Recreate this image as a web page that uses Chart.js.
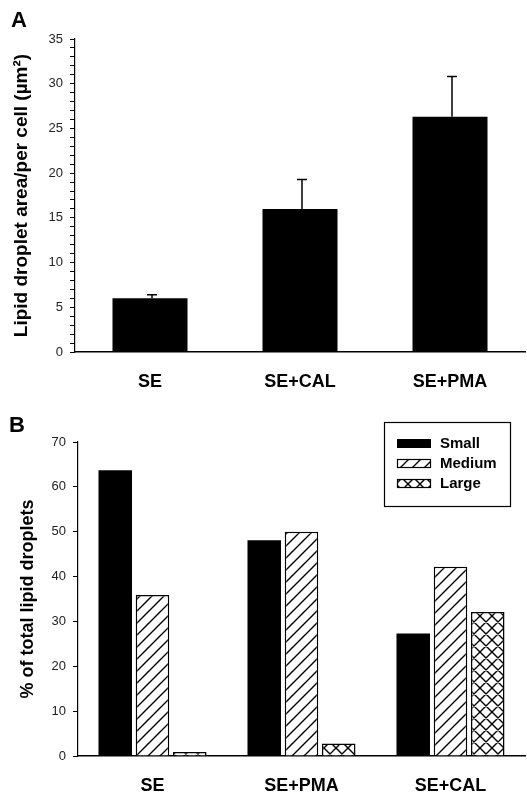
<!DOCTYPE html>
<html>
<head>
<meta charset="utf-8">
<script src="https://cdn.jsdelivr.net/npm/chart.js@4.4.0/dist/chart.umd.min.js"></script>
<style>
  html, body { margin: 0; padding: 0; background: #fff; }
  #wrap { position: relative; width: 527px; height: 793px; }
  .panel { position: absolute; left: 0; width: 527px; }
  #boxA { top: 0; height: 400px; }
  #boxB { top: 400px; height: 393px; }
  .letter { position: absolute; font: bold 22px "Liberation Sans", Arial, sans-serif; line-height: 1; color: #000; }
</style>
</head>
<body>
<div id="wrap">
  <div class="panel" id="boxA"><canvas id="chartA"></canvas></div>
  <div class="panel" id="boxB"><canvas id="chartB"></canvas></div>
  <div class="letter" style="left:11px; top:9px;">A</div>
  <div class="letter" style="left:9px; top:414px;">B</div>
</div>
<script>
// panel A - lipid droplet area per cell
const catsA = ['SE', 'SE+CAL', 'SE+PMA'];
const meanA = [6.0, 16.0, 26.3];
const errA = [0.4, 3.3, 4.5];

// panel B - % of droplets by size
const catsB = ['SE', 'SE+PMA', 'SE+CAL'];
const smallB = [63.7, 48.1, 27.3];
const mediumB = [35.9, 50.0, 42.2];
const largeB = [0.9, 2.8, 32.1];

const fam = '"Liberation Sans", Arial, sans-serif';
Chart.defaults.font.family = fam;

// hatch fills
function hatch(cross) {
  let s = 12;
  let c = document.createElement('canvas');
  c.width = s; c.height = s;
  let g = c.getContext('2d');
  g.fillStyle = '#fff';
  g.fillRect(0, 0, s, s);
  g.strokeStyle = '#000';
  g.lineWidth = 1.4;
  g.beginPath();
  g.moveTo(-1, s + 1); g.lineTo(s + 1, -1);
  g.moveTo(-1, 1); g.lineTo(1, -1);
  g.moveTo(s - 1, s + 1); g.lineTo(s + 1, s - 1);
  if (cross) {
    g.moveTo(-1, -1); g.lineTo(s + 1, s + 1);
    g.moveTo(s - 1, -1); g.lineTo(s + 1, 1);
    g.moveTo(-1, s - 1); g.lineTo(1, s + 1);
  }
  g.stroke();
  return g.createPattern(c, 'repeat');
}

const errPlugin = {
  id: 'errBars',
  afterDatasetsDraw(chart) {
    let meta = chart.getDatasetMeta(0);
    let y = chart.scales.y;
    let ctx = chart.ctx;
    ctx.save();
    ctx.strokeStyle = '#000';
    ctx.lineWidth = 1.5;
    meta.data.forEach((bar, i) => {
      let top = y.getPixelForValue(meanA[i] + errA[i]);
      let x = bar.x + 2;
      ctx.beginPath();
      ctx.moveTo(x, bar.y);
      ctx.lineTo(x, top);
      ctx.moveTo(x - 5, top);
      ctx.lineTo(x + 5, top);
      ctx.stroke();
    });
    ctx.restore();
  }
};

const boxLegend = {
  id: 'boxLegend',
  afterDraw(chart) {
    let ctx = chart.ctx;
    ctx.save();
    ctx.strokeStyle = '#000';
    ctx.lineWidth = 1.2;
    ctx.strokeRect(384.5, 22.5, 126, 84);
    ctx.font = 'bold 15px ' + fam;
    ctx.textBaseline = 'middle';
    ctx.fillStyle = '#000';
    chart.data.datasets.forEach((ds, i) => {
      let y = 39 + i * 20;
      ctx.fillStyle = ds.backgroundColor;
      ctx.fillRect(397, y, 34, 9);
      if (ds.borderWidth) {
        ctx.lineWidth = 1.2;
        ctx.strokeRect(397.5, y + 0.5, 33, 8);
      }
      ctx.fillStyle = '#000';
      ctx.fillText(ds.label, 440, y + 5);
    });
    ctx.restore();
  }
};

function yAxis(max, step, title, titleSize, titlePad, width, minor) {
  return {
    min: 0,
    max: max,
    ticks: {
      stepSize: minor ? 1 : step,
      autoSkip: false,
      callback: v => (v % step === 0 ? v : ''),
      color: '#222',
      font: { size: 13 },
      padding: 7
    },
    grid: { drawOnChartArea: false, tickLength: 5, color: '#000' },
    border: { color: '#000', width: 1.2 },
    title: {
      display: true,
      text: title,
      color: '#000',
      font: { size: titleSize, weight: 'bold' },
      padding: { top: titlePad, bottom: 0 }
    },
    afterFit: s => { s.width = width; }
  };
}

function xAxis(height) {
  return {
    grid: { display: false },
    border: { color: '#000', width: 1.5 },
    ticks: { color: '#000', font: { size: 18, weight: 'bold' }, padding: 11 },
    afterFit: s => { s.height = height; }
  };
}

new Chart(document.getElementById('chartA'), {
  type: 'bar',
  data: {
    labels: catsA,
    datasets: [{
      data: meanA,
      backgroundColor: '#000',
      borderWidth: 0,
      barPercentage: 0.5,
      categoryPercentage: 1
    }]
  },
  options: {
    responsive: true,
    maintainAspectRatio: false,
    animation: false,
    layout: { padding: { top: 39, right: 2, left: 0, bottom: 0 } },
    plugins: { legend: { display: false }, tooltip: { enabled: false } },
    scales: {
      x: xAxis(48),
      y: yAxis(35, 5, 'Lipid droplet area/per cell (µm²)', 19, 10, 75, true)
    }
  },
  plugins: [errPlugin]
});

new Chart(document.getElementById('chartB'), {
  type: 'bar',
  data: {
    labels: catsB,
    datasets: [
      { label: 'Small', data: smallB, backgroundColor: '#000', borderColor: '#000', borderWidth: 0 },
      { label: 'Medium', data: mediumB, backgroundColor: hatch(false), borderColor: '#000', borderWidth: 1.5 },
      { label: 'Large', data: largeB, backgroundColor: hatch(true), borderColor: '#000', borderWidth: 1.5 }
    ]
  },
  options: {
    responsive: true,
    maintainAspectRatio: false,
    animation: false,
    datasets: { bar: { barPercentage: 0.9, categoryPercentage: 0.75 } },
    layout: { padding: { top: 42, right: 2, left: 0, bottom: 0 } },
    plugins: { legend: { display: false }, tooltip: { enabled: false } },
    scales: {
      x: xAxis(37),
      y: yAxis(70, 10, '% of total lipid droplets', 18, 17, 78, false)
    }
  },
  plugins: [boxLegend]
});
</script>
</body>
</html>
